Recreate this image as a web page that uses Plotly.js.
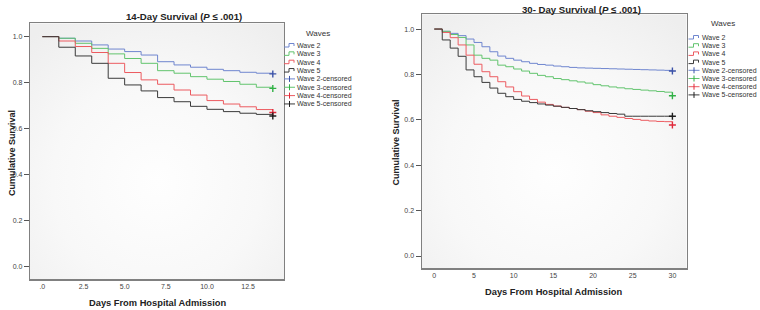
<!DOCTYPE html>
<html>
<head>
<meta charset="utf-8">
<script src="https://cdn.plot.ly/plotly-3.0.1.min.js"></script>
<style>html,body{margin:0;padding:0;background:#fff;}#chart{width:760px;height:310px;}</style>
</head>
<body>
<div id="chart"></div>
<script>
// ---------- DATA ----------
const waves = ["Wave 2", "Wave 3", "Wave 4", "Wave 5"];

// 14-day Kaplan-Meier (value after the step at each day)
const days14 = [0,1,2,3,4,5,6,7,8,9,10,11,12,13,14];
const surv14_wave2 = [1.0,0.993,0.981,0.964,0.946,0.935,0.920,0.891,0.877,0.867,0.858,0.852,0.845,0.841,0.841];
const surv14_wave3 = [1.0,0.993,0.971,0.949,0.925,0.905,0.884,0.852,0.841,0.826,0.815,0.805,0.793,0.780,0.780];
const surv14_wave4 = [1.0,0.981,0.957,0.931,0.884,0.844,0.812,0.793,0.768,0.746,0.722,0.707,0.695,0.683,0.683];
const surv14_wave5 = [1.0,0.954,0.916,0.884,0.819,0.790,0.764,0.735,0.717,0.697,0.684,0.674,0.667,0.662,0.662];
const censorDay14 = 14;
const censor14 = [0.838, 0.775, 0.670, 0.655];

// 30-day Kaplan-Meier
const days30 = [0,1,2,3,4,5,6,7,8,9,10,11,12,13,14,15,16,17,18,19,20,21,22,23,24,25,26,27,28,29,30];
const surv30_wave2 = [1.0,0.990,0.981,0.971,0.956,0.941,0.922,0.900,0.881,0.871,0.863,0.856,0.849,0.844,0.841,0.837,0.834,0.831,0.829,0.828,0.827,0.826,0.825,0.824,0.823,0.822,0.821,0.820,0.819,0.818,0.818];
const surv30_wave3 = [1.0,0.990,0.976,0.963,0.930,0.885,0.871,0.863,0.841,0.834,0.824,0.815,0.805,0.796,0.790,0.782,0.777,0.772,0.767,0.762,0.755,0.750,0.745,0.741,0.737,0.734,0.731,0.728,0.725,0.722,0.720];
const surv30_wave4 = [1.0,0.985,0.962,0.930,0.885,0.845,0.812,0.790,0.768,0.745,0.724,0.705,0.690,0.678,0.668,0.661,0.655,0.650,0.645,0.638,0.632,0.622,0.616,0.611,0.606,0.602,0.598,0.595,0.593,0.592,0.592];
const surv30_wave5 = [1.0,0.952,0.916,0.880,0.820,0.790,0.765,0.740,0.717,0.702,0.690,0.682,0.676,0.670,0.665,0.660,0.655,0.650,0.645,0.640,0.636,0.632,0.628,0.625,0.616,0.616,0.616,0.616,0.616,0.616,0.616];
const censorDay30 = 30;
const censor30 = [0.815, 0.706, 0.577, 0.616];

// tick labels
const xTicks14 = [0, 2.5, 5, 7.5, 10, 12.5];
const xTickText14 = [".0", "2.5", "5.0", "7.5", "10.0", "12.5"];
const xTicks30 = [0, 5, 10, 15, 20, 25, 30];
const xTickText30 = ["0", "5", "10", "15", "20", "25", "30"];
const yTicks = [0, 0.2, 0.4, 0.6, 0.8, 1.0];
const yTickText = ["0.0", "0.2", "0.4", "0.6", "0.8", "1.0"];

// ---------- STYLE ----------
const lineColors = ["#6f86cf", "#62c46e", "#ec5b60", "#3a3a3a"];
const censorColors = ["#3b52a8", "#2fb044", "#e0283a", "#1e1e1e"];
const W = 760, H = 310;
const px = x => x / W;
const py = y => 1 - y / H;
const FONT = "Liberation Sans, Arial, sans-serif";

const s14 = [surv14_wave2, surv14_wave3, surv14_wave4, surv14_wave5];
const s30 = [surv30_wave2, surv30_wave3, surv30_wave4, surv30_wave5];

const traces = [];
function addSet(days, series, cDay, cens, xa, ya) {
  series.forEach((s, i) => {
    traces.push({
      x: days, y: s, xaxis: xa, yaxis: ya, mode: "lines", type: "scatter",
      line: {shape: "hv", color: lineColors[i], width: 1},
      name: waves[i], showlegend: false, hoverinfo: "skip"
    });
  });
  cens.forEach((c, i) => {
    traces.push({
      x: [cDay], y: [c], xaxis: xa, yaxis: ya, mode: "markers", type: "scatter",
      marker: {symbol: "cross-thin", size: 5, line: {width: 1.4, color: censorColors[i]}},
      name: waves[i] + "-censored", showlegend: false, hoverinfo: "skip"
    });
  });
}
addSet(days14, s14, censorDay14, censor14, "x", "y");
addSet(days30, s30, censorDay30, censor30, "x2", "y2");

// plot area boxes in pixels
const box1 = {l: 30, r: 284, t: 23.3, b: 279.3};
const box2 = {l: 421.7, r: 686.7, t: 14.3, b: 268.3};

function axisX(box, range, tv, tt) {
  return {
    domain: [px(box.l), px(box.r)], range: range, tickvals: tv, ticktext: tt,
    showgrid: false, zeroline: false, showline: true, mirror: true,
    linecolor: "#808080", linewidth: 1.2, ticks: "",
    tickfont: {family: FONT, size: 7, color: "#444"}, fixedrange: true
  };
}
function axisY(box, range) {
  return {
    domain: [py(box.b), py(box.t)], range: range, tickvals: yTicks, ticktext: yTickText,
    showgrid: false, zeroline: false, showline: true, mirror: true,
    linecolor: "#808080", linewidth: 1.2, ticks: "outside", ticklen: 5, tickwidth: 1,
    tickcolor: "#555", tickfont: {family: FONT, size: 7, color: "#444"}, fixedrange: true
  };
}

const annotations = [];
const shapes = [];
function txt(x, y, text, size, opts) {
  annotations.push(Object.assign({
    xref: "paper", yref: "paper", x: px(x), y: py(y), text: text, showarrow: false,
    xanchor: "center", yanchor: "middle",
    font: {family: FONT, size: size, color: "#222"}
  }, opts || {}));
}

// titles
txt(184, 16, "<b>14-Day Survival (<i>P</i> ≤ .001)</b>", 9.6);
txt(581.7, 9, "<b>30- Day Survival (<i>P</i> ≤ .001)</b>", 9.6);
txt(157.7, 303, "<b>Days From Hospital Admission</b>", 9.3);
txt(553.3, 291.7, "<b>Days From Hospital Admission</b>", 9.3);
txt(12, 153, "<b>Cumulative Survival</b>", 9, {textangle: -90});
txt(395, 142.5, "<b>Cumulative Survival</b>", 9, {textangle: -90});

// legends
function legend(x0, yTitle, y0, dy, titleX) {
  txt(titleX, yTitle, "Waves", 8, {font: {family: FONT, size: 8, color: "#333"}});
  const names = waves.concat(waves.map(w => w + "-censored"));
  names.forEach((n, k) => {
    const y = y0 + k * dy;
    const i = k % 4;
    if (k < 4) {
      shapes.push({type: "path", xref: "paper", yref: "paper",
        path: `M ${px(x0)},${py(y + 1.5)} H ${px(x0 + 5)} V ${py(y - 2)} H ${px(x0 + 10)} V ${py(y + 0.5)}`,
        line: {color: lineColors[i], width: 1}});
    } else {
      shapes.push({type: "line", xref: "paper", yref: "paper",
        x0: px(x0), x1: px(x0 + 11), y0: py(y), y1: py(y), line: {color: lineColors[i], width: 1}});
      shapes.push({type: "line", xref: "paper", yref: "paper",
        x0: px(x0 + 5.5), x1: px(x0 + 5.5), y0: py(y - 3), y1: py(y + 3), line: {color: censorColors[i], width: 1}});
    }
    txt(x0 + 11, y, n, 7, {xanchor: "left", font: {family: FONT, size: 7, color: "#333"}});
  });
}
legend(284, 33, 45.5, 8.35, 318);
legend(688.5, 24, 37.5, 8.2, 723);

// soft gradient backgrounds of plot areas
function grad() {
  const svg = "<svg xmlns='http://www.w3.org/2000/svg' width='100' height='100' preserveAspectRatio='none'>" +
    "<defs><radialGradient id='g' cx='0.5' cy='0.62' r='0.75'>" +
    "<stop offset='0' stop-color='#fefefe'/><stop offset='0.55' stop-color='#f8f8f8'/><stop offset='1' stop-color='#eeeeee'/>" +
    "</radialGradient></defs><rect width='100' height='100' fill='url(#g)'/></svg>";
  return "data:image/svg+xml;charset=utf-8," + encodeURIComponent(svg);
}
const images = [box1, box2].map(b => ({
  source: grad(), xref: "paper", yref: "paper", x: px(b.l), y: py(b.t),
  sizex: px(b.r) - px(b.l), sizey: py(b.t) - py(b.b), sizing: "stretch",
  xanchor: "left", yanchor: "top", layer: "below"
}));

const layout = {
  width: W, height: H, autosize: false,
  margin: {l: 0, r: 0, t: 0, b: 0, pad: 0},
  paper_bgcolor: "#ffffff", plot_bgcolor: "rgba(0,0,0,0)",
  showlegend: false,
  xaxis: axisX(box1, [-0.75, 14.68], xTicks14, xTickText14),
  yaxis: axisY(box1, [-0.055, 1.058]),
  xaxis2: Object.assign(axisX(box2, [-1.59, 31.8], xTicks30, xTickText30), {anchor: "y2"}),
  yaxis2: Object.assign(axisY(box2, [-0.054, 1.065]), {anchor: "x2"}),
  annotations: annotations, shapes: shapes, images: images,
  font: {family: FONT}
};
layout.xaxis.anchor = "y";
layout.yaxis.anchor = "x";

Plotly.newPlot("chart", traces, layout, {displayModeBar: false, staticPlot: true});
</script>
</body>
</html>
